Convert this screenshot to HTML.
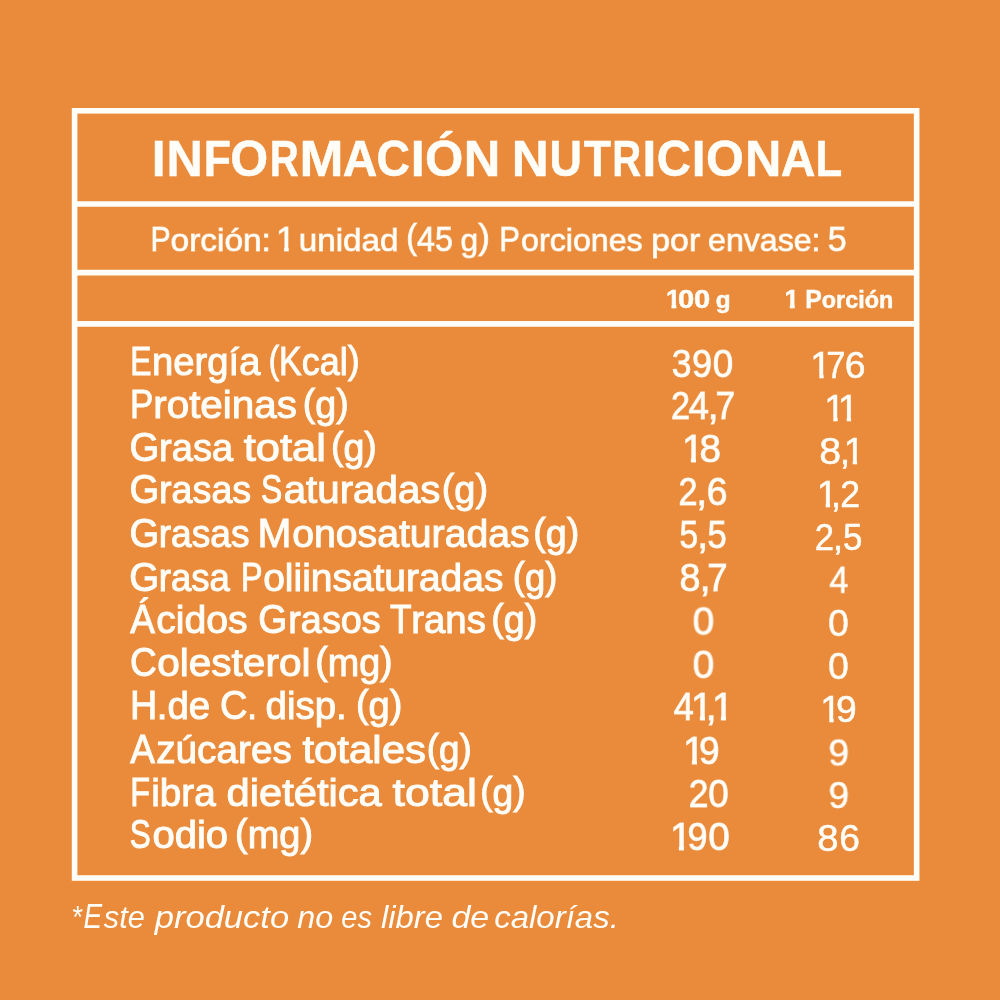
<!DOCTYPE html>
<html lang="es">
<head>
<meta charset="utf-8">
<title>Información Nutricional</title>
<style>
html,body{margin:0;padding:0;overflow:hidden}
body{width:1000px;height:1000px;overflow:hidden;background:#E98B3B;color:#FFFDF8;font-family:'Liberation Sans', sans-serif;position:relative}
.frame{position:absolute;left:0;top:0}
.ln{position:absolute;left:0;width:1000px;height:0;margin:0;line-height:0;white-space:nowrap;word-spacing:0;will-change:transform}
.w{display:inline-block;width:0;line-height:0;white-space:pre;vertical-align:baseline;transform-origin:0 0}
.l,.p{line-height:0}
.title{font-size:50.3px;font-weight:700;font-style:normal;-webkit-text-stroke:0.5px #FFFDF8}
.sub{font-size:35.4px;font-weight:400;font-style:normal;-webkit-text-stroke:1.0px rgba(255,253,248,0.7)}
.sub .l{font-size:32.0px}
.sub .p{font-size:35.4px;position:relative;top:-1.9px}
.sub .one{clip-path:polygon(-2px -60px, 12.80px -60px, 12.80px 14.50px, 8.20px 14.50px, 8.20px 8.25px, -2px 8.25px)}
.hdr{font-size:26.0px;font-weight:700;font-style:normal;-webkit-text-stroke:0.5px #FFFDF8}
.hdr .l{font-size:24.5px}
.hdr .one{clip-path:polygon(-2px -60px, 10.30px -60px, 10.30px 11.25px, 5.45px 11.25px, 5.45px 5.50px, -2px 5.50px)}
.lab{font-size:41.5px;font-weight:400;font-style:normal;-webkit-text-stroke:1.0px #FFFDF8}
.lab .l{font-size:38.0px}
.lab .p{font-size:38.0px;position:relative;top:-2.0px}
.num{font-size:39.0px;font-weight:400;font-style:normal;-webkit-text-stroke:1.0px rgba(255,253,248,0.8)}
.num .one{clip-path:polygon(-2px -60px, 14.05px -60px, 14.05px 14.50px, 8.95px 14.50px, 8.95px 8.00px, -2px 8.00px)}
.num2{font-size:37.5px;font-weight:400;font-style:normal;-webkit-text-stroke:0.5px #FFFDF8}
.num2 .one{clip-path:polygon(-2px -60px, 13.30px -60px, 13.30px 15.25px, 8.95px 15.25px, 8.95px 9.25px, -2px 9.25px)}
.foot{font-size:34.6px;font-weight:400;font-style:italic}
.foot .l{font-size:32.0px}
</style>
</head>
<body>
<svg class="frame" width="1000" height="1000" viewBox="0 0 1000 1000" aria-hidden="true">
<rect x="74.60" y="110.80" width="842.05" height="767.20" fill="none" stroke="#FFFDF8" stroke-width="5.6"/>
<line x1="74.60" y1="204.0" x2="916.65" y2="204.0" stroke="#FFFDF8" stroke-width="5.6"/>
<line x1="74.60" y1="272.6" x2="916.65" y2="272.6" stroke="#FFFDF8" stroke-width="5.6"/>
<line x1="74.60" y1="323.9" x2="916.65" y2="323.9" stroke="#FFFDF8" stroke-width="5.6"/>
</svg>
<p class="ln title" style="top:159px;transform:translateY(-0.11px)" aria-label="INFORMACIÓN NUTRICIONAL"><span class="w" style="transform:translateX(151.80px) scaleX(0.9861)">I</span><span class="w" style="transform:translateX(166.56px) scaleX(0.9980)">N</span><span class="w" style="transform:translateX(203.83px) scaleX(0.8864)">F</span><span class="w" style="transform:translateX(230.31px) scaleX(0.9692)">O</span><span class="w" style="transform:translateX(269.68px) scaleX(0.7984)">R</span><span class="w" style="transform:translateX(299.41px) scaleX(1.0496)">M</span><span class="w" style="transform:translateX(342.63px) scaleX(0.9522)">A</span><span class="w" style="transform:translateX(376.40px) scaleX(0.9217)">C</span><span class="w" style="transform:translateX(410.77px) scaleX(0.9976)">I</span><span class="w" style="transform:translateX(425.06px) scaleX(0.9785)">Ó</span><span class="w" style="transform:translateX(463.75px) scaleX(1.0068)">N</span> <span class="w" style="transform:translateX(497.71px) scaleX(1.0179)">N</span><span class="w" style="transform:translateX(535.55px) scaleX(0.8938)">U</span><span class="w" style="transform:translateX(569.69px) scaleX(0.8898)">T</span><span class="w" style="transform:translateX(598.23px) scaleX(0.7956)">R</span><span class="w" style="transform:translateX(628.61px) scaleX(0.9861)">I</span><span class="w" style="transform:translateX(642.77px) scaleX(0.9422)">C</span><span class="w" style="transform:translateX(677.79px) scaleX(0.9864)">I</span><span class="w" style="transform:translateX(692.10px) scaleX(0.9680)">O</span><span class="w" style="transform:translateX(731.08px) scaleX(1.0022)">N</span><span class="w" style="transform:translateX(766.84px) scaleX(0.9565)">A</span><span class="w" style="transform:translateX(801.54px) scaleX(0.8687)">L</span></p>
<p class="ln sub" style="top:239px;transform:translateY(-0.19px)" aria-label="Porción: 1 unidad (45 g) Porciones por envase: 5"><span class="w" style="transform:translateX(150.54px) scaleX(0.8522)">P</span><span class="w" style="transform:translateX(170.55px) scaleX(1.0445)"><span class="l">orción:</span></span> <span class="w one" style="transform:translateX(266.04px) scaleX(1.0000)">1</span> <span class="w" style="transform:translateX(278.73px) scaleX(1.0368)"><span class="l">unidad</span></span> <span class="w" style="transform:translateX(376.32px) scaleX(0.9140)"><span class="p">(</span>45</span> <span class="w" style="transform:translateX(421.53px) scaleX(0.9896)"><span class="l">g</span><span class="p">)</span></span> <span class="w" style="transform:translateX(450.34px) scaleX(0.8764)">P</span><span class="w" style="transform:translateX(472.03px) scaleX(1.0055)"><span class="l">orciones</span></span> <span class="w" style="transform:translateX(592.28px) scaleX(1.0574)"><span class="l">por</span></span> <span class="w" style="transform:translateX(639.02px) scaleX(1.0037)"><span class="l">envase:</span></span> <span class="w" style="transform:translateX(748.75px) scaleX(0.9615)">5</span></p>
<p class="ln hdr" style="top:299px;transform:translateY(-0.06px)" aria-label="100 g"><span class="w one" style="transform:translateX(666.05px) scaleX(1.0000)">1</span><span class="w" style="transform:translateX(677.91px) scaleX(1.1191)">00</span> <span class="w" style="transform:translateX(708.77px) scaleX(0.9922)"><span class="l">g</span></span></p>
<p class="ln hdr" style="top:299px;transform:translateY(-0.06px)" aria-label="1 Porción"><span class="w one" style="transform:translateX(784.40px) scaleX(1.0000)">1</span> <span class="w" style="transform:translateX(798.32px) scaleX(0.9530)">P<span class="l">orción</span></span></p>
<p class="ln lab" style="top:361px;transform:translateY(0.14px)" aria-label="Energía (Kcal)"><span class="w" style="transform:translateX(130.23px) scaleX(0.7670)">E</span><span class="w" style="transform:translateX(152.07px) scaleX(1.0053)"><span class="l">nergía</span></span> <span class="w" style="transform:translateX(256.75px) scaleX(0.8182)"><span class="p">(</span>K</span><span class="w" style="transform:translateX(289.78px) scaleX(0.9458)"><span class="l">cal</span><span class="p">)</span></span></p>
<p class="ln num" style="top:364px;transform:translateY(-0.15px)" aria-label="390"><span class="w" style="transform:translateX(671.68px) scaleX(0.9102)">3</span><span class="w" style="transform:translateX(691.93px) scaleX(0.9253)">9</span><span class="w" style="transform:translateX(712.72px) scaleX(0.9436)">0</span></p>
<p class="ln num2" style="top:365px;transform:translateY(-0.46px)" aria-label="176"><span class="w one" style="transform:translateX(810.36px) scaleX(1.0000)">1</span><span class="w" style="transform:translateX(826.37px) scaleX(0.9221)">7</span><span class="w" style="transform:translateX(844.72px) scaleX(0.9965)">6</span></p>
<p class="ln lab" style="top:404px;transform:translateY(-0.26px)" aria-label="Proteinas (g)"><span class="w" style="transform:translateX(130.08px) scaleX(0.8408)">P</span><span class="w" style="transform:translateX(153.24px) scaleX(1.0626)"><span class="l">roteinas</span></span> <span class="w" style="transform:translateX(290.83px) scaleX(0.9885)"><span class="p">(</span><span class="l">g</span><span class="p">)</span></span></p>
<p class="ln num" style="top:406px;transform:translateY(0.15px)" aria-label="24,7"><span class="w" style="transform:translateX(670.92px) scaleX(0.8789)">2</span><span class="w" style="transform:translateX(688.42px) scaleX(0.9422)">4</span><span class="w" style="transform:translateX(707.70px) scaleX(1.0000)">,</span><span class="w" style="transform:translateX(715.38px) scaleX(0.9066)">7</span></p>
<p class="ln num2" style="top:408px;transform:translateY(-0.41px)" aria-label="11"><span class="w one" style="transform:translateX(824.36px) scaleX(1.0000)">1</span><span class="w one" style="transform:translateX(837.78px) scaleX(1.0000)">1</span></p>
<p class="ln lab" style="top:447px;transform:translateY(-0.06px)" aria-label="Grasa total (g)"><span class="w" style="transform:translateX(129.57px) scaleX(0.9208)">G</span><span class="w" style="transform:translateX(159.09px) scaleX(1.0010)"><span class="l">rasa</span></span> <span class="w" style="transform:translateX(231.69px) scaleX(1.1452)"><span class="l">total</span></span> <span class="w" style="transform:translateX(307.94px) scaleX(0.9884)"><span class="p">(</span><span class="l">g</span><span class="p">)</span></span></p>
<p class="ln num" style="top:449px;transform:translateY(0.15px)" aria-label="18"><span class="w one" style="transform:translateX(681.94px) scaleX(1.0000)">1</span><span class="w" style="transform:translateX(699.48px) scaleX(0.9922)">8</span></p>
<p class="ln num2" style="top:451px;transform:translateY(-0.36px)" aria-label="8,1"><span class="w" style="transform:translateX(819.36px) scaleX(1.0498)">8</span><span class="w" style="transform:translateX(839.64px) scaleX(1.0000)">,</span><span class="w one" style="transform:translateX(843.78px) scaleX(1.0000)">1</span></p>
<p class="ln lab" style="top:489px;transform:translateY(0.44px)" aria-label="Grasas Saturadas (g)"><span class="w" style="transform:translateX(129.57px) scaleX(0.9208)">G</span><span class="w" style="transform:translateX(159.07px) scaleX(0.9915)"><span class="l">rasas</span></span> <span class="w" style="transform:translateX(249.02px) scaleX(0.7671)">S</span><span class="w" style="transform:translateX(271.73px) scaleX(1.0594)"><span class="l">aturadas</span></span> <span class="w" style="transform:translateX(418.69px) scaleX(0.9994)"><span class="p">(</span><span class="l">g</span><span class="p">)</span></span></p>
<p class="ln num" style="top:492px;transform:translateY(0.15px)" aria-label="2,6"><span class="w" style="transform:translateX(678.48px) scaleX(0.8790)">2</span><span class="w" style="transform:translateX(696.16px) scaleX(1.0000)">,</span><span class="w" style="transform:translateX(706.74px) scaleX(0.9552)">6</span></p>
<p class="ln num2" style="top:494px;transform:translateY(-0.31px)" aria-label="1,2"><span class="w one" style="transform:translateX(816.78px) scaleX(1.0000)">1</span><span class="w" style="transform:translateX(830.64px) scaleX(1.0000)">,</span><span class="w" style="transform:translateX(840.37px) scaleX(0.9507)">2</span></p>
<p class="ln lab" style="top:533px;transform:translateY(-0.16px)" aria-label="Grasas Monosaturadas (g)"><span class="w" style="transform:translateX(129.57px) scaleX(0.9208)">G</span><span class="w" style="transform:translateX(158.71px) scaleX(0.9778)"><span class="l">rasas</span></span> <span class="w" style="transform:translateX(245.44px) scaleX(0.9815)">M</span><span class="w" style="transform:translateX(280.21px) scaleX(1.0308)"><span class="l">onosaturadas</span></span> <span class="w" style="transform:translateX(510.31px) scaleX(0.9911)"><span class="p">(</span><span class="l">g</span><span class="p">)</span></span></p>
<p class="ln num" style="top:535px;transform:translateY(0.45px)" aria-label="5,5"><span class="w" style="transform:translateX(679.62px) scaleX(0.8586)">5</span><span class="w" style="transform:translateX(697.16px) scaleX(1.0000)">,</span><span class="w" style="transform:translateX(707.58px) scaleX(0.8878)">5</span></p>
<p class="ln num2" style="top:537px;transform:translateY(-0.26px)" aria-label="2,5"><span class="w" style="transform:translateX(814.86px) scaleX(0.9245)">2</span><span class="w" style="transform:translateX(832.64px) scaleX(1.0000)">,</span><span class="w" style="transform:translateX(842.93px) scaleX(0.9308)">5</span></p>
<p class="ln lab" style="top:577px;transform:translateY(-0.46px)" aria-label="Grasa Poliinsaturadas (g)"><span class="w" style="transform:translateX(129.25px) scaleX(0.9279)">G</span><span class="w" style="transform:translateX(158.75px) scaleX(0.9623)"><span class="l">rasa</span></span> <span class="w" style="transform:translateX(229.04px) scaleX(0.7778)">P</span><span class="w" style="transform:translateX(251.23px) scaleX(1.0241)"><span class="l">oliinsaturadas</span></span> <span class="w" style="transform:translateX(489.76px) scaleX(0.9581)"><span class="p">(</span><span class="l">g</span><span class="p">)</span></span></p>
<p class="ln num" style="top:578px;transform:translateY(0.45px)" aria-label="8,7"><span class="w" style="transform:translateX(679.53px) scaleX(0.9653)">8</span><span class="w" style="transform:translateX(699.70px) scaleX(1.0000)">,</span><span class="w" style="transform:translateX(707.33px) scaleX(0.9367)">7</span></p>
<p class="ln num2" style="top:580px;transform:translateY(-0.21px)" aria-label="4"><span class="w" style="transform:translateX(829.38px) scaleX(0.9163)">4</span></p>
<p class="ln lab" style="top:619px;transform:translateY(-0.16px)" aria-label="Ácidos Grasos Trans (g)"><span class="w" style="transform:translateX(130.17px) scaleX(0.8920)">Á</span><span class="w" style="transform:translateX(156.22px) scaleX(1.0312)"><span class="l">cidos</span></span> <span class="w" style="transform:translateX(246.37px) scaleX(0.8997)">G</span><span class="w" style="transform:translateX(276.29px) scaleX(0.9944)"><span class="l">rasos</span></span> <span class="w" style="transform:translateX(366.94px) scaleX(0.8518)">T</span><span class="w" style="transform:translateX(388.22px) scaleX(1.0096)"><span class="l">rans</span></span> <span class="w" style="transform:translateX(456.31px) scaleX(0.9911)"><span class="p">(</span><span class="l">g</span><span class="p">)</span></span></p>
<p class="ln num" style="top:621px;transform:translateY(0.45px)" aria-label="0"><span class="w" style="transform:translateX(692.63px) scaleX(0.9946)">0</span></p>
<p class="ln num2" style="top:623px;transform:translateY(-0.16px)" aria-label="0"><span class="w" style="transform:translateX(828.14px) scaleX(0.9888)">0</span></p>
<p class="ln lab" style="top:662px;transform:translateY(-0.06px)" aria-label="Colesterol (mg)"><span class="w" style="transform:translateX(130.05px) scaleX(0.8930)">C</span><span class="w" style="transform:translateX(157.21px) scaleX(1.0672)"><span class="l">olesterol</span></span> <span class="w" style="transform:translateX(303.14px) scaleX(0.9928)"><span class="p">(</span><span class="l">mg</span><span class="p">)</span></span></p>
<p class="ln num" style="top:665px;transform:translateY(-0.15px)" aria-label="0"><span class="w" style="transform:translateX(692.63px) scaleX(0.9952)">0</span></p>
<p class="ln num2" style="top:666px;transform:translateY(-0.11px)" aria-label="0"><span class="w" style="transform:translateX(828.14px) scaleX(0.9886)">0</span></p>
<p class="ln lab" style="top:705px;transform:translateY(0.34px)" aria-label="H.de C. disp. (g)"><span class="w" style="transform:translateX(129.95px) scaleX(0.9103)">H</span><span class="w" style="transform:translateX(156.71px) scaleX(1.0130)"><span class="l">.de</span></span> <span class="w" style="transform:translateX(207.88px) scaleX(0.9167)">C<span class="l">.</span></span> <span class="w" style="transform:translateX(242.57px) scaleX(1.0103)"><span class="l">disp.</span></span> <span class="w" style="transform:translateX(320.93px) scaleX(1.0017)"><span class="p">(</span><span class="l">g</span><span class="p">)</span></span></p>
<p class="ln num" style="top:707px;transform:translateY(0.25px)" aria-label="41,1"><span class="w" style="transform:translateX(673.85px) scaleX(0.9232)">4</span><span class="w one" style="transform:translateX(690.94px) scaleX(1.0000)">1</span><span class="w" style="transform:translateX(705.70px) scaleX(1.0000)">,</span><span class="w one" style="transform:translateX(711.94px) scaleX(1.0000)">1</span></p>
<p class="ln num2" style="top:709px;transform:translateY(-0.06px)" aria-label="19"><span class="w one" style="transform:translateX(820.36px) scaleX(1.0000)">1</span><span class="w" style="transform:translateX(835.90px) scaleX(0.9926)">9</span></p>
<p class="ln lab" style="top:749px;transform:translateY(-0.36px)" aria-label="Azúcares totales (g)"><span class="w" style="transform:translateX(130.16px) scaleX(0.8916)">A</span><span class="w" style="transform:translateX(156.18px) scaleX(1.0192)"><span class="l">zúcares</span></span> <span class="w" style="transform:translateX(290.39px) scaleX(1.1032)"><span class="l">totales</span></span> <span class="w" style="transform:translateX(403.82px) scaleX(0.9684)"><span class="p">(</span><span class="l">g</span><span class="p">)</span></span></p>
<p class="ln num" style="top:751px;transform:translateY(-0.15px)" aria-label="19"><span class="w one" style="transform:translateX(682.94px) scaleX(1.0000)">1</span><span class="w" style="transform:translateX(698.95px) scaleX(0.9489)">9</span></p>
<p class="ln num2" style="top:752px;transform:translateY(0.49px)" aria-label="9"><span class="w" style="transform:translateX(828.34px) scaleX(0.9964)">9</span></p>
<p class="ln lab" style="top:792px;transform:translateY(-0.46px)" aria-label="Fibra dietética total (g)"><span class="w" style="transform:translateX(130.20px) scaleX(0.7808)">F</span><span class="w" style="transform:translateX(151.22px) scaleX(1.0177)"><span class="l">ibra</span></span> <span class="w" style="transform:translateX(214.54px) scaleX(1.0970)"><span class="l">dietética</span></span> <span class="w" style="transform:translateX(369.58px) scaleX(1.1729)"><span class="l">total</span></span> <span class="w" style="transform:translateX(445.13px) scaleX(0.9783)"><span class="p">(</span><span class="l">g</span><span class="p">)</span></span></p>
<p class="ln num" style="top:794px;transform:translateY(-0.15px)" aria-label="20"><span class="w" style="transform:translateX(688.87px) scaleX(0.9092)">2</span><span class="w" style="transform:translateX(708.25px) scaleX(0.9429)">0</span></p>
<p class="ln num2" style="top:795px;transform:translateY(0.04px)" aria-label="9"><span class="w" style="transform:translateX(828.40px) scaleX(0.9927)">9</span></p>
<p class="ln lab" style="top:834px;transform:translateY(0.14px)" aria-label="Sodio (mg)"><span class="w" style="transform:translateX(129.68px) scaleX(0.7581)">S</span><span class="w" style="transform:translateX(152.39px) scaleX(1.0535)"><span class="l">odio</span></span> <span class="w" style="transform:translateX(223.10px) scaleX(0.9974)"><span class="p">(</span><span class="l">mg</span><span class="p">)</span></span></p>
<p class="ln num" style="top:837px;transform:translateY(-0.15px)" aria-label="190"><span class="w one" style="transform:translateX(669.94px) scaleX(1.0000)">1</span><span class="w" style="transform:translateX(687.48px) scaleX(0.9219)">9</span><span class="w" style="transform:translateX(708.18px) scaleX(0.9920)">0</span></p>
<p class="ln num2" style="top:838px;transform:translateY(0.09px)" aria-label="86"><span class="w" style="transform:translateX(817.19px) scaleX(1.0198)">8</span><span class="w" style="transform:translateX(839.26px) scaleX(0.9922)">6</span></p>
<p class="ln foot" style="top:916px;transform:translateY(0.20px)" aria-label="*Este producto no es libre de calorías."><span class="w" style="transform:translateX(71.28px) scaleX(0.8559)"><span class="l">*</span></span><span class="w" style="transform:translateX(83.45px) scaleX(0.8080)">E</span><span class="w" style="transform:translateX(103.78px) scaleX(0.9622)"><span class="l">ste</span></span> <span class="w" style="transform:translateX(144.75px) scaleX(1.0792)"><span class="l">producto</span></span> <span class="w" style="transform:translateX(278.28px) scaleX(1.0091)"><span class="l">no</span></span> <span class="w" style="transform:translateX(312.34px) scaleX(0.9068)"><span class="l">es</span></span> <span class="w" style="transform:translateX(343.06px) scaleX(1.0232)"><span class="l">libre</span></span> <span class="w" style="transform:translateX(403.41px) scaleX(1.0618)"><span class="l">de</span></span> <span class="w" style="transform:translateX(436.13px) scaleX(1.0316)"><span class="l">calorías.</span></span></p>
</body>
</html>
